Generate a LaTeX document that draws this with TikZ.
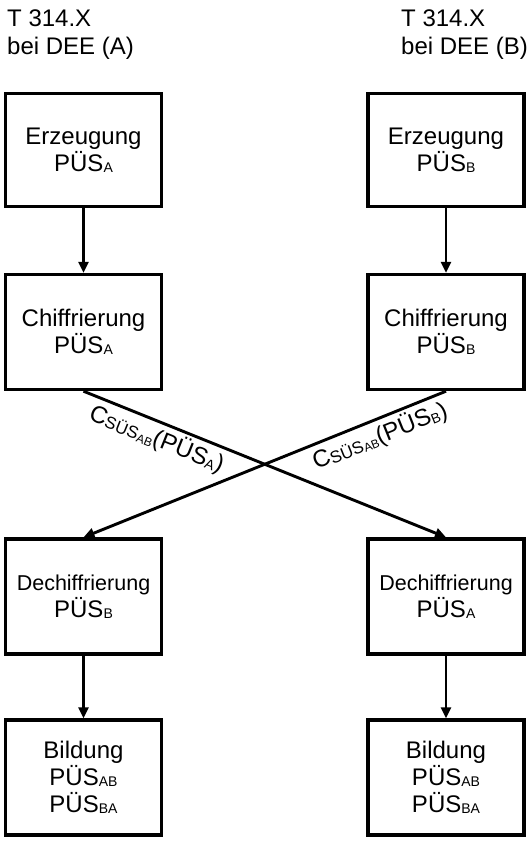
\documentclass[tikz,border=0pt]{standalone}
\usepackage{fontspec}
\setmainfont{Liberation Sans}
\usetikzlibrary{arrows.meta, positioning}
\newcommand{\idx}[1]{\raisebox{-1.5pt}{\fontsize{14}{14}\selectfont #1}}
\newcommand{\keyAB}{\raisebox{-1pt}{\fontsize{17}{17}\selectfont SÜS\raisebox{-1.5pt}{\fontsize{12}{12}\selectfont AB}}}

\begin{document}
\begin{tikzpicture}[
                x=1pt, y=-1pt,
                line join=miter,
                stepbox/.style={shape=rectangle, draw=black, line width=3.4pt, minimum width=156pt, minimum height=115pt, inner sep=0pt, align=center, font=\fontsize{24}{27}\selectfont},
                titletext/.style={anchor=north west, inner sep=0pt, align=left, font=\fontsize{24}{28}\selectfont},
                flow/.style={-{Triangle[width=10pt,length=11pt]}, line width=2.9pt},
                keylabel/.style={sloped, below, inner sep=3pt, font=\fontsize{24}{24}\selectfont}
                ]
                \useasboundingbox (0,0) rectangle (531,842);

                %% Titles
                \node[titletext] (ttlA) at (7,9.5) {T 314.X\\bei DEE (A)};
                \node[titletext] (ttlB) at (401,9.5) {T 314.X\\bei DEE (B)};

                %% Boxes
                \node[stepbox, minimum height=113pt] (genA) at (83.5,150) {Erzeugung\\PÜS\idx{A}};
                \node[stepbox, minimum height=113pt] (genB) at (446,150) {Erzeugung\\PÜS\idx{B}};

                \node[stepbox] (encA) at (83.5,332) {Chiffrierung\\PÜS\idx{A}};
                \node[stepbox] (encB) at (446,332) {Chiffrierung\\PÜS\idx{B}};

                \node[stepbox] (decA) at (83.5,596.5) {{\fontsize{21.5}{27}\selectfont Dechiffrierung}\\PÜS\idx{B}};
                \node[stepbox] (decB) at (446,596.5) {{\fontsize{21.5}{27}\selectfont Dechiffrierung}\\PÜS\idx{A}};

                \node[stepbox] (mkA) at (83.5,777.5) {Bildung\\PÜS\idx{AB}\\PÜS\idx{BA}};
                \node[stepbox] (mkB) at (446,777.5) {Bildung\\PÜS\idx{AB}\\PÜS\idx{BA}};

                %% Draws
                \draw[flow] (genA) -- (encA);
                \draw[flow] (genB) -- (encB);
                \draw[flow] (decA) -- (mkA);
                \draw[flow] (decB) -- (mkB);

                % crossing
                \draw[flow] (encA.south) -- node[keylabel, pos=0.22] {C\keyAB(PÜS\idx{A})} (decB.north);
                \draw[flow] (encB.south) -- node[keylabel, pos=0.2] {C\keyAB(PÜS\idx{B})} (decA.north);
\end{tikzpicture}
\end{document}
